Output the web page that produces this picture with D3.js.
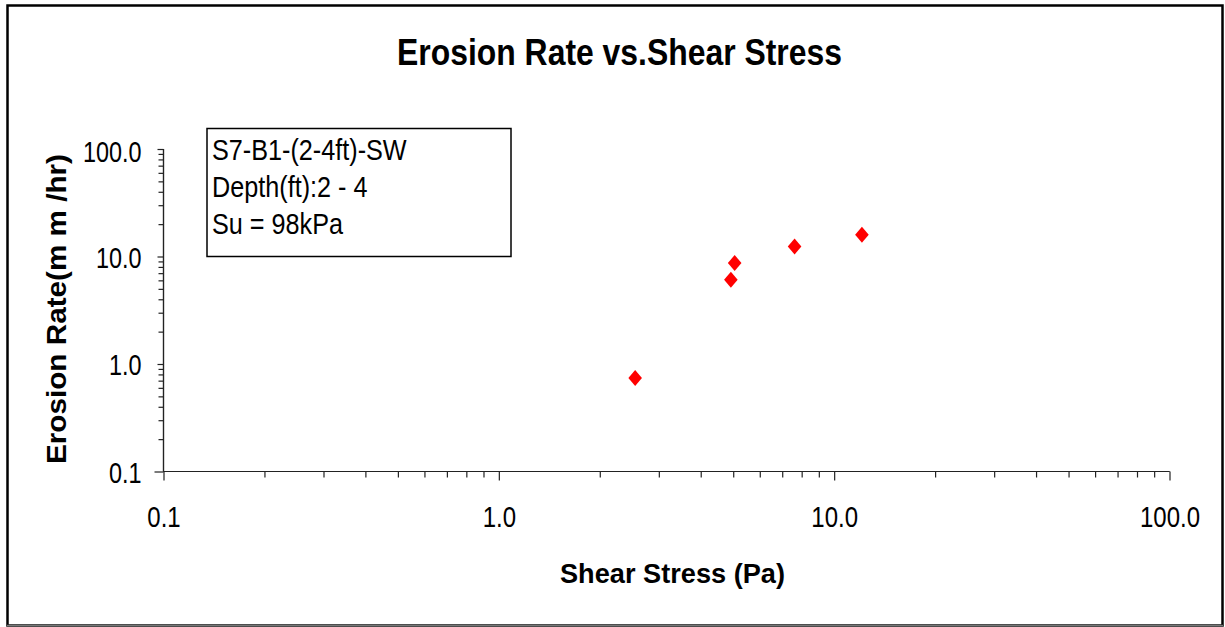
<!DOCTYPE html>
<html>
<head>
<meta charset="utf-8">
<script src="https://cdn.jsdelivr.net/npm/d3@7"></script>
<style>
  body { margin: 0; background: #fff; }
  svg text { font-family: "Liberation Sans", Arial, sans-serif; fill: #000; }
</style>
</head>
<body>
<svg width="1225" height="627"></svg>
<script>
"use strict";
// data
var shearStress = [2.55, 4.92, 5.05, 7.62, 12.1];
var erosionRate = [0.74, 6.07, 8.68, 12.4, 15.9];
var xMajorTicks = [0.1, 1, 10, 100];
var yMajorTicks = [0.1, 1, 10, 100];
var legendLines = ["S7-B1-(2-4ft)-SW", "Depth(ft):2 - 4", "Su = 98kPa"];

var svg = d3.select('svg');
var width = Number(svg.attr('width'));
var height = Number(svg.attr('height'));

// the original text is tall and narrow: squeeze it sideways
function condense(sel, ratio) {
    sel.each(function () {
        var w = this.getComputedTextLength();
        d3.select(this).attr('textLength', w * ratio).attr('lengthAdjust', 'spacingAndGlyphs');
    });
}

// outer frame
svg.append('rect')
    .attr('x', 7.5).attr('y', 5.5)
    .attr('width', 1215).attr('height', 620)
    .attr('fill', 'none').attr('stroke', '#000').attr('stroke-width', 2.5);
svg.append('line')
    .attr('x1', 7).attr('x2', 1223).attr('y1', 625.5).attr('y2', 625.5)
    .attr('stroke', '#777').attr('stroke-width', 1.5);

var x = d3.scaleLog().domain([0.1, 100]).range([163.5, 1169.5]);
var y = d3.scaleLog().domain([0.1, 100]).range([471.5, 149]);

// minor ticks 2..9 of each decade
function minors(majors) {
    var out = [];
    majors.slice(0, -1).forEach(function (m) {
        for (var k = 2; k <= 9; k++) out.push(m * k);
    });
    return out;
}

// x axis
svg.append('g').attr('class', 'xaxis').attr('transform', 'translate(0,471.5)')
    .call(d3.axisBottom(x).tickValues(minors(xMajorTicks)).tickSize(6).tickFormat(''));
var xMajor = svg.append('g').attr('class', 'xaxis').attr('transform', 'translate(0,471.5)')
    .call(d3.axisBottom(x).tickValues(xMajorTicks).tickSize(9)
        .tickFormat(d3.format('.1f')));
xMajor.selectAll('text')
    .attr('font-size', 30).attr('y', 55.5).attr('dy', 0)
    .call(condense, 0.8);

// y axis
svg.append('g').attr('class', 'yaxis').attr('transform', 'translate(163.5,0)')
    .call(d3.axisLeft(y).tickValues(minors(yMajorTicks)).tickSize(5).tickFormat(''));
var yMajor = svg.append('g').attr('class', 'yaxis').attr('transform', 'translate(163.5,0)')
    .call(d3.axisLeft(y).tickValues(yMajorTicks).tickSize(6).tickPadding(16)
        .tickFormat(d3.format('.1f')));
yMajor.selectAll('text')
    .attr('font-size', 30)
    .attr('dy', function (d) { return d === 100 ? '0.42em' : '0.36em'; })
    .call(condense, 0.78);
// longer tick at the origin like the original
yMajor.selectAll('.tick').filter(function (d) { return d === 0.1; })
    .select('line').attr('x2', -9);

svg.selectAll('.tick line').attr('stroke', '#222').attr('stroke-width', 1.2);
svg.selectAll('.xaxis .domain').attr('d', 'M163.5,0H1169.5')
    .attr('stroke', '#222').attr('stroke-width', 1.2);
svg.selectAll('.yaxis .domain').attr('d', 'M0,149V471.5')
    .attr('stroke', '#222').attr('stroke-width', 1.2);

// points
var diamond = 'M0,-8L6.8,0L0,8L-6.8,0Z';
svg.append('g').selectAll('path')
    .data(shearStress)
    .join('path')
    .attr('d', diamond)
    .attr('fill', '#ff0000')
    .attr('transform', function (d, i) {
        return 'translate(' + x(d) + ',' + y(erosionRate[i]) + ')';
    });

// legend box
var legend = svg.append('g');
legend.append('rect')
    .attr('x', 207).attr('y', 128.5).attr('width', 304).attr('height', 128)
    .attr('fill', '#fff').attr('stroke', '#000').attr('stroke-width', 1.5);
legend.selectAll('text')
    .data(legendLines)
    .join('text')
    .attr('x', 212)
    .attr('y', function (d, i) { return 160 + i * 37; })
    .attr('font-size', 30)
    .text(function (d) { return d; })
    .call(condense, 0.84);

// titles
svg.append('text')
    .attr('x', 397).attr('y', 65)
    .attr('font-size', 36).attr('font-weight', 'bold')
    .attr('textLength', 445).attr('lengthAdjust', 'spacingAndGlyphs')
    .text('Erosion Rate vs.Shear Stress');

svg.append('text')
    .attr('x', 560).attr('y', 583)
    .attr('font-size', 27).attr('font-weight', 'bold')
    .attr('textLength', 225).attr('lengthAdjust', 'spacingAndGlyphs')
    .text('Shear Stress (Pa)');

svg.append('text')
    .attr('transform', 'translate(66,464) rotate(-90)')
    .attr('font-size', 27).attr('font-weight', 'bold')
    .attr('textLength', 310).attr('lengthAdjust', 'spacingAndGlyphs')
    .text('Erosion  Rate(m m /hr)');
</script>
</body>
</html>
